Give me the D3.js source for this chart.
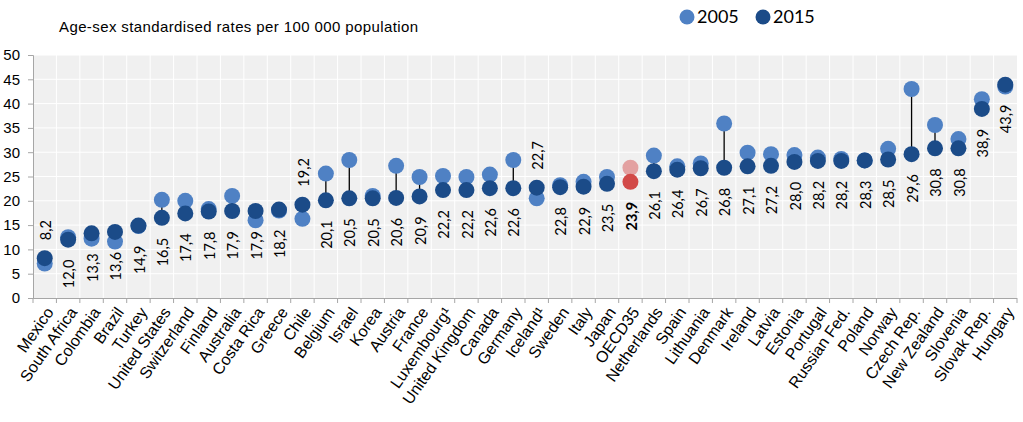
<!DOCTYPE html>
<html>
<head>
<meta charset="utf-8">
<script src="https://cdn.jsdelivr.net/npm/d3@7"></script>
<style>
  html, body { margin: 0; padding: 0; background: #fff; }
  svg { display: block; }
</style>
</head>
<body>
<svg id="chart" width="1023" height="422"></svg>
<script>
const categories = ["Mexico","South Africa","Colombia","Brazil","Turkey","United States","Switzerland","Finland","Australia","Costa Rica","Greece","Chile","Belgium","Israel","Korea","Austria","France","Luxembourg¹","United Kingdom","Canada","Germany","Iceland¹","Sweden","Italy","Japan","OECD35","Netherlands","Spain","Lithuania","Denmark","Ireland","Latvia","Estonia","Portugal","Russian Fed.","Poland","Norway","Czech Rep.","New Zealand","Slovenia","Slovak Rep.","Hungary"];
const values2015 = [8.2,12.0,13.3,13.6,14.9,16.5,17.4,17.8,17.9,17.9,18.2,19.2,20.1,20.5,20.5,20.6,20.9,22.2,22.2,22.6,22.6,22.7,22.8,22.9,23.5,23.9,26.1,26.4,26.7,26.8,27.1,27.2,28.0,28.2,28.2,28.3,28.5,29.6,30.8,30.8,38.9,43.9];
const values2005 = [7.1,12.5,12.2,11.6,14.8,20.2,20.0,18.3,21.0,16.0,18.0,16.3,25.6,28.4,21.0,27.2,24.9,25.1,24.9,25.4,28.4,20.5,23.2,23.9,24.9,26.8,29.3,27.1,27.7,35.9,29.9,29.6,29.4,28.9,28.6,28.3,30.7,43.0,35.6,32.7,40.9,43.5];
const labelsAbove = ["Mexico","Chile","Iceland¹"];
const highlight = "OECD35";
const yTicks = [0,5,10,15,20,25,30,35,40,45,50];
const seriesNames = ["2005","2015"];
const titleText = "Age-sex standardised rates per 100 000 population";

(function () {
const svg = d3.select("#chart");
const pl = 33, pr = 1017, pt = 55, pb = 298;
const x = d3.scaleBand().domain(categories).range([pl, pr]).padding(0);
const y = d3.scaleLinear().domain([0, 50]).range([pb, pt]);
const cx = c => x(c) + x.bandwidth() / 2;

const col05 = "#4f81c4", col15 = "#1b4b88";
const colH05 = "#e3a1a1", colH15 = "#d24a48";

// plot background
svg.append("rect").attr("x", pl).attr("y", pt).attr("width", pr - pl).attr("height", pb - pt).attr("fill", "#f0f0f0");
// gridlines
svg.append("g").selectAll("line").data(yTicks.filter(t => t > 0)).join("line")
  .attr("x1", pl).attr("x2", pr).attr("y1", d => y(d)).attr("y2", d => y(d))
  .attr("stroke", "#fff").attr("stroke-width", 1);
svg.append("g").selectAll("line").data(categories.slice(1)).join("line")
  .attr("x1", d => x(d)).attr("x2", d => x(d)).attr("y1", pt).attr("y2", pb)
  .attr("stroke", "#fff").attr("stroke-width", 1);

// y axis
const yAxis = svg.append("g").attr("transform", `translate(${pl},0)`)
  .call(d3.axisLeft(y).tickValues(yTicks).tickSize(5).tickPadding(8));
yAxis.select(".domain").attr("stroke", "#a6a6a6");
yAxis.selectAll(".tick line").attr("stroke", "#a6a6a6");
yAxis.selectAll(".tick text").attr("font-family", "Liberation Sans, Arial, sans-serif").attr("font-size", 15).attr("fill", "#000");

// x axis with ticks at boundaries
const xg = svg.append("g");
xg.append("line").attr("x1", pl).attr("x2", pr).attr("y1", pb + 0.5).attr("y2", pb + 0.5).attr("stroke", "#a6a6a6");
xg.selectAll("line.tk").data(categories.concat(["__end"])).join("line").attr("class", "tk")
  .attr("x1", (d, i) => i < categories.length ? x(d) : pr)
  .attr("x2", (d, i) => i < categories.length ? x(d) : pr)
  .attr("y1", pb).attr("y2", pb + 5).attr("stroke", "#a6a6a6");
xg.selectAll("text").data(categories).join("text")
  .attr("transform", d => `translate(${cx(d) + 5},${pb + 11}) rotate(-55)`)
  .attr("text-anchor", "end").attr("dy", "0.35em")
  .attr("font-family", "Liberation Sans, Arial, sans-serif").attr("font-size", 16).attr("fill", "#000")
  .text(d => d);

// connecting lines
svg.append("g").selectAll("line").data(categories).join("line")
  .attr("x1", d => cx(d)).attr("x2", d => cx(d))
  .attr("y1", (d, i) => y(values2005[i])).attr("y2", (d, i) => y(values2015[i]))
  .attr("stroke", "#000").attr("stroke-width", 1.3);

// dots
const r = 8;
svg.append("g").selectAll("circle").data(categories).join("circle")
  .attr("cx", d => cx(d)).attr("cy", (d, i) => y(values2005[i])).attr("r", r)
  .attr("fill", d => d === highlight ? colH05 : col05);
svg.append("g").selectAll("circle").data(categories).join("circle")
  .attr("cx", d => cx(d)).attr("cy", (d, i) => y(values2015[i])).attr("r", r)
  .attr("fill", d => d === highlight ? colH15 : col15);

// data labels
const fmt = v => d3.format(".1f")(v).replace(".", ",");
svg.append("g").selectAll("text").data(categories).join("text")
  .attr("transform", (d, i) => {
    const above = labelsAbove.includes(d);
    const yy = y(values2015[i]) + (above ? -18 : 20);
    return `translate(${cx(d) + 1},${yy}) rotate(-90)`;
  })
  .attr("text-anchor", d => labelsAbove.includes(d) ? "start" : "end")
  .attr("dy", "0.35em")
  .attr("font-family", "Lato, Carlito, sans-serif").attr("font-size", 14.5)
  .attr("font-weight", d => d === highlight ? "bold" : "normal")
  .attr("fill", "#000")
  .text((d, i) => fmt(values2015[i]));

// title
svg.append("text").attr("x", 59).attr("y", 32)
  .attr("font-family", "Liberation Sans, Arial, sans-serif").attr("font-size", 15)
  .attr("textLength", 359).attr("lengthAdjust", "spacing")
  .attr("fill", "#000").text(titleText);

// legend
const legend = svg.append("g");
const lx = [687, 763];
const lcol = [col05, col15];
seriesNames.forEach((s, i) => {
  legend.append("circle").attr("cx", lx[i]).attr("cy", 17).attr("r", 7.5).attr("fill", lcol[i]);
  legend.append("text").attr("x", lx[i] + 10).attr("y", 17).attr("dy", "0.36em")
    .attr("font-family", "Lato, Carlito, sans-serif").attr("font-size", 18).attr("fill", "#000").text(s);
});
})();
</script>
</body>
</html>
